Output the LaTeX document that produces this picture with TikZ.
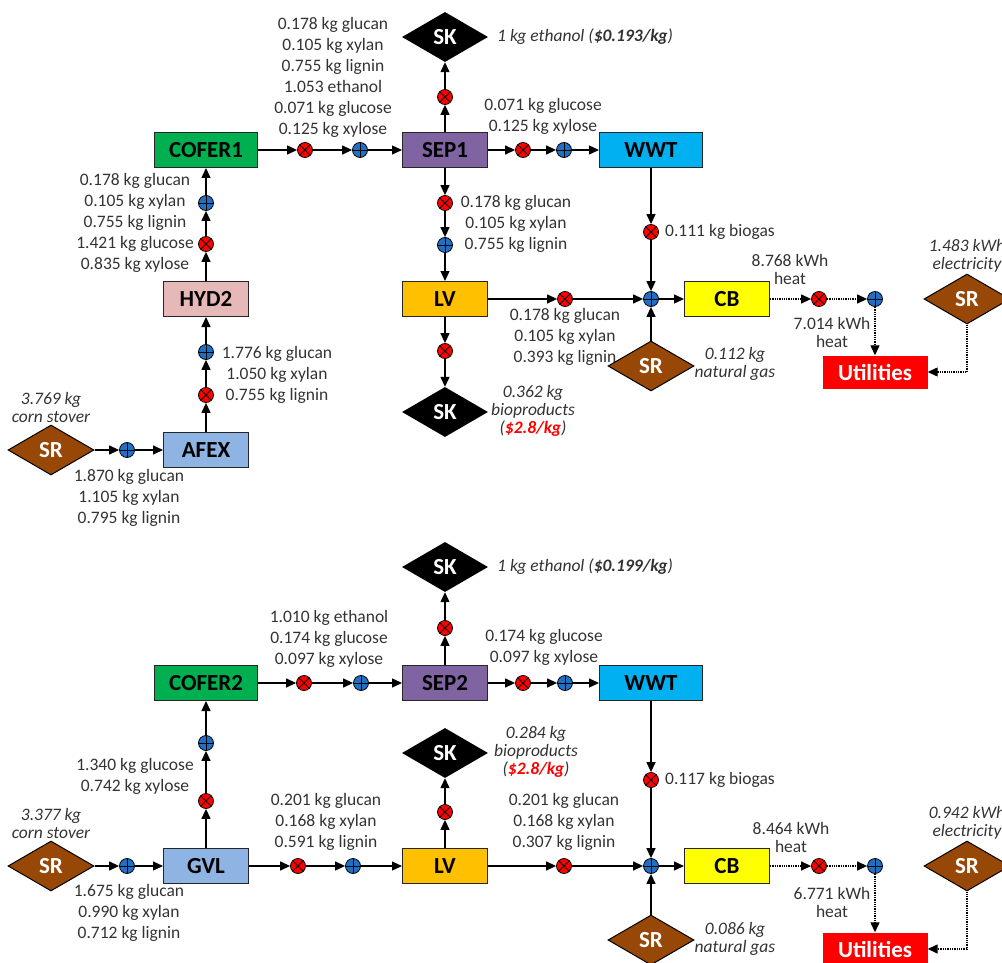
\documentclass[tikz,border=0pt]{standalone}
\usepackage{fontspec}
\setmainfont{Carlito}
\usetikzlibrary{shapes.geometric,arrows.meta}

\definecolor{coferGreen}{HTML}{00B050}
\definecolor{sepPurple}{HTML}{8064A2}
\definecolor{wwtBlue}{HTML}{00B0F0}
\definecolor{hydPink}{HTML}{E6B9B8}
\definecolor{pretBlue}{HTML}{8DB4E2}
\definecolor{lvOrange}{HTML}{FFC000}
\definecolor{cbYellow}{HTML}{FFFF00}
\definecolor{srcBrown}{HTML}{974706}
\definecolor{mixBlue}{HTML}{1F6FC5}
\definecolor{splitRed}{HTML}{FF0000}
\definecolor{txtGray}{HTML}{333333}

\begin{document}
\begin{tikzpicture}[x=1pt,y=-1pt,
    flow/.style={line width=1.3pt,-{Triangle[length=10pt,width=9pt]}},
    flowdot/.style={flow,densely dotted},
    unit/.style={rectangle,draw=black!85,line width=1pt,minimum height=35pt,inner sep=0pt,
        font=\fontsize{23}{24}\selectfont\bfseries},
    wideunit/.style={unit,minimum width=103pt},
    narrowunit/.style={unit,minimum width=85pt},
    sink/.style={diamond,aspect=1.72,fill=black,text=white,minimum width=86pt,minimum height=50pt,
        inner sep=0pt,font=\fontsize{23}{24}\selectfont\bfseries},
    source/.style={sink,draw=black,line width=1pt,fill=srcBrown},
    splitx/.style={circle,draw=black,line width=0.8pt,fill=splitRed,minimum size=15pt,inner sep=0pt,
        path picture={\draw[line width=0.8pt]
            (path picture bounding box.north west) -- (path picture bounding box.south east)
            (path picture bounding box.south west) -- (path picture bounding box.north east);}},
    mixp/.style={circle,draw=black,line width=0.8pt,fill=mixBlue,minimum size=15pt,inner sep=0pt,
        path picture={\draw[line width=0.8pt]
            (path picture bounding box.north) -- (path picture bounding box.south)
            (path picture bounding box.west) -- (path picture bounding box.east);}},
    mass/.style={align=center,text=txtGray,inner sep=0pt,font=\fontsize{17.5}{21}\selectfont},
    heatlbl/.style={mass,font=\fontsize{17.5}{18}\selectfont},
    note/.style={mass,font=\fontsize{17.5}{18}\selectfont\itshape}]

    % Picture frame (cropped like the reference)
    \useasboundingbox (0,0) rectangle (1002,963);
    \clip (0,0) rectangle (1002,963);

    % ===== Upper process: AFEX route =====
    % Units
    \node[wideunit,fill=coferGreen] (cofer1) at (206,150) {COFER1};
    \node[narrowunit,fill=sepPurple] (sep1) at (445,150) {SEP1};
    \node[wideunit,fill=wwtBlue] (wwt1) at (651,150) {WWT};
    \node[narrowunit,fill=hydPink] (hyd2) at (206,299) {HYD2};
    \node[narrowunit,fill=pretBlue] (afex) at (206,450) {AFEX};
    \node[narrowunit,fill=lvOrange] (lv1) at (445,299) {LV};
    \node[narrowunit,fill=cbYellow] (cb1) at (727,299) {CB};
    \node[rectangle,fill=splitRed,text=white,minimum width=105pt,minimum height=33pt,
        font=\fontsize{23}{24}\selectfont\bfseries] (util1) at (875,372) {Utilities};

    % Flow labels
    \node[mass] (lblCoSep1) at (333,77) {0.178 kg glucan\\0.105 kg xylan\\0.755 kg lignin\\1.053 ethanol\\0.071 kg glucose\\0.125 kg xylose};
    \node[mass] (lblSepW1) at (543,116) {0.071 kg glucose\\0.125 kg xylose};
    \node[mass] (lblSepLv1) at (516,224) {0.178 kg glucan\\0.105 kg xylan\\0.755 kg lignin};
    \node[mass,anchor=west] (lblBio1) at (665,232) {0.111 kg biogas};
    \node[mass] (lblLvCb1) at (565,337) {0.178 kg glucan\\0.105 kg xylan\\0.393 kg lignin};
    \node[mass] (lblHyd1) at (135,223) {0.178 kg glucan\\0.105 kg xylan\\0.755 kg lignin\\1.421 kg glucose\\0.835 kg xylose};
    \node[mass] (lblAfex1) at (277,375) {1.776 kg glucan\\1.050 kg xylan\\0.755 kg lignin};
    \node[mass] (lblFeed1) at (129,498) {1.870 kg glucan\\1.105 kg xylan\\0.795 kg lignin};
    \node[heatlbl] (lblHeatA1) at (790,269) {8.768 kWh\\heat};
    \node[heatlbl] (lblHeatB1) at (832,332) {7.014 kWh\\heat};
    \node[note,anchor=west] (lblEth1) at (497,37) {1 kg ethanol (\textbf{\$0.193/kg})};
    \node[note] (lblProd1) at (533,411) {0.362 kg\\bioproducts\\(\textcolor{splitRed}{\textbf{\$2.8/kg}})};
    \node[note] (lblGas1) at (735,364) {0.112 kg\\natural gas};
    \node[note] (lblElec1) at (967,256) {1.483 kWh\\electricity};
    \node[note] (lblStover1) at (51,407) {3.769 kg\\corn stover};

    % Sources and sinks
    \node[sink] (sk1a) at (445,37) {SK};
    \node[sink] (sk1b) at (445,412) {SK};
    \node[source] (sr1a) at (51,450) {SR};
    \node[source] (sr1b) at (651,366) {SR};
    \node[source] (sr1c) at (967,299) {SR};

    % Splitters and mixers
    \node[splitx] (x1a) at (305,150) {};
    \node[mixp] (p1a) at (360,150) {};
    \node[splitx] (x1b) at (523,150) {};
    \node[mixp] (p1b) at (564,150) {};
    \node[splitx] (x1c) at (445,97) {};
    \node[splitx] (x1d) at (445,203) {};
    \node[mixp] (p1d) at (445,245) {};
    \node[splitx] (x1e) at (651,232) {};
    \node[mixp] (m1) at (651,299) {};
    \node[splitx] (x1f) at (565,299) {};
    \node[splitx] (x1g) at (819,299) {};
    \node[mixp] (p1g) at (875,299) {};
    \node[splitx] (x1h) at (445,351) {};
    \node[mixp] (p1i) at (206,203) {};
    \node[splitx] (x1i) at (206,244) {};
    \node[mixp] (p1j) at (206,352) {};
    \node[splitx] (x1j) at (206,395) {};
    \node[mixp] (p1k) at (127,450) {};

    % Streams
    \draw[flow] (sr1a) -- (p1k);
    \draw[flow] (p1k) -- (afex);
    \draw[flow] (afex) -- (x1j);
    \draw[flow] (x1j) -- (p1j);
    \draw[flow] (p1j) -- (hyd2);
    \draw[flow] (hyd2) -- (x1i);
    \draw[flow] (x1i) -- (p1i);
    \draw[flow] (p1i) -- (cofer1);
    \draw[flow] (cofer1) -- (x1a);
    \draw[flow] (x1a) -- (p1a);
    \draw[flow] (p1a) -- (sep1);
    \draw[flow] (sep1) -- (x1c);
    \draw[flow] (x1c) -- (sk1a);
    \draw[flow] (sep1) -- (x1b);
    \draw[flow] (x1b) -- (p1b);
    \draw[flow] (p1b) -- (wwt1);
    \draw[flow] (sep1) -- (x1d);
    \draw[flow] (x1d) -- (p1d);
    \draw[flow] (p1d) -- (lv1);
    \draw[flow] (lv1) -- (x1h);
    \draw[flow] (x1h) -- (sk1b);
    \draw[flow] (lv1) -- (x1f);
    \draw[flow] (x1f) -- (m1);
    \draw[flow] (wwt1) -- (x1e);
    \draw[flow] (x1e) -- (m1);
    \draw[flow] (sr1b) -- (m1);
    \draw[flow] (m1) -- (cb1);
    \draw[flowdot] (cb1) -- (x1g);
    \draw[flowdot] (x1g) -- (p1g);
    \draw[flowdot] (p1g) -- (util1);
    \draw[flowdot] (sr1c.south) |- (util1.east);

    % ===== Lower process: GVL route =====
    % Units
    \node[wideunit,fill=coferGreen] (cofer2) at (206,683) {COFER2};
    \node[narrowunit,fill=sepPurple] (sep2) at (445,683) {SEP2};
    \node[wideunit,fill=wwtBlue] (wwt2) at (651,683) {WWT};
    \node[narrowunit,fill=pretBlue] (gvl) at (206,866) {GVL};
    \node[narrowunit,fill=lvOrange] (lv2) at (445,866) {LV};
    \node[narrowunit,fill=cbYellow] (cb2) at (727,866) {CB};
    \node[rectangle,fill=splitRed,text=white,minimum width=105pt,minimum height=33pt,
        font=\fontsize{23}{24}\selectfont\bfseries] (util2) at (875,949) {Utilities};

    % Flow labels
    \node[mass] (lblCoSep2) at (329,639) {1.010 kg ethanol\\0.174 kg glucose\\0.097 kg xylose};
    \node[mass] (lblSepW2) at (544,647) {0.174 kg glucose\\0.097 kg xylose};
    \node[mass,anchor=west] (lblBio2) at (665,780) {0.117 kg biogas};
    \node[mass] (lblGvlCo2) at (135,776) {1.340 kg glucose\\0.742 kg xylose};
    \node[mass] (lblFeed2) at (129,913) {1.675 kg glucan\\0.990 kg xylan\\0.712 kg lignin};
    \node[mass] (lblGvlLv2) at (326,822) {0.201 kg glucan\\0.168 kg xylan\\0.591 kg lignin};
    \node[mass] (lblLvCb2) at (564,822) {0.201 kg glucan\\0.168 kg xylan\\0.307 kg lignin};
    \node[heatlbl] (lblHeatA2) at (791,837) {8.464 kWh\\heat};
    \node[heatlbl] (lblHeatB2) at (832,902) {6.771 kWh\\heat};
    \node[note,anchor=west] (lblEth2) at (497,567) {1 kg ethanol (\textbf{\$0.199/kg})};
    \node[note] (lblProd2) at (536,752) {0.284 kg\\bioproducts\\(\textcolor{splitRed}{\textbf{\$2.8/kg}})};
    \node[note] (lblGas2) at (735,939) {0.086 kg\\natural gas};
    \node[note] (lblElec2) at (967,823) {0.942 kWh\\electricity};
    \node[note] (lblStover2) at (51,823) {3.377 kg\\corn stover};

    % Sources and sinks
    \node[sink] (sk2a) at (445,567) {SK};
    \node[sink] (sk2b) at (445,753) {SK};
    \node[source] (sr2a) at (51,866) {SR};
    \node[source] (sr2b) at (651,940) {SR};
    \node[source] (sr2c) at (967,866) {SR};

    % Splitters and mixers
    \node[splitx] (x2a) at (304,683) {};
    \node[mixp] (p2a) at (361,683) {};
    \node[splitx] (x2b) at (523,683) {};
    \node[mixp] (p2b) at (565,683) {};
    \node[splitx] (x2c) at (445,628) {};
    \node[splitx] (x2d) at (651,780) {};
    \node[mixp] (m2) at (651,866) {};
    \node[splitx] (x2f) at (564,866) {};
    \node[splitx] (x2g) at (819,866) {};
    \node[mixp] (p2g) at (875,866) {};
    \node[splitx] (x2h) at (445,812) {};
    \node[mixp] (p2i) at (206,743) {};
    \node[splitx] (x2i) at (206,801) {};
    \node[mixp] (p2k) at (127,866) {};
    \node[splitx] (x2l) at (298,866) {};
    \node[mixp] (p2l) at (353,866) {};

    % Streams
    \draw[flow] (sr2a) -- (p2k);
    \draw[flow] (p2k) -- (gvl);
    \draw[flow] (gvl) -- (x2i);
    \draw[flow] (x2i) -- (p2i);
    \draw[flow] (p2i) -- (cofer2);
    \draw[flow] (cofer2) -- (x2a);
    \draw[flow] (x2a) -- (p2a);
    \draw[flow] (p2a) -- (sep2);
    \draw[flow] (sep2) -- (x2c);
    \draw[flow] (x2c) -- (sk2a);
    \draw[flow] (sep2) -- (x2b);
    \draw[flow] (x2b) -- (p2b);
    \draw[flow] (p2b) -- (wwt2);
    \draw[flow] (gvl) -- (x2l);
    \draw[flow] (x2l) -- (p2l);
    \draw[flow] (p2l) -- (lv2);
    \draw[flow] (lv2) -- (x2h);
    \draw[flow] (x2h) -- (sk2b);
    \draw[flow] (lv2) -- (x2f);
    \draw[flow] (x2f) -- (m2);
    \draw[flow] (wwt2) -- (x2d);
    \draw[flow] (x2d) -- (m2);
    \draw[flow] (sr2b) -- (m2);
    \draw[flow] (m2) -- (cb2);
    \draw[flowdot] (cb2) -- (x2g);
    \draw[flowdot] (x2g) -- (p2g);
    \draw[flowdot] (p2g) -- (util2);
    \draw[flowdot] (sr2c.south) |- (util2.east);
\end{tikzpicture}
\end{document}
